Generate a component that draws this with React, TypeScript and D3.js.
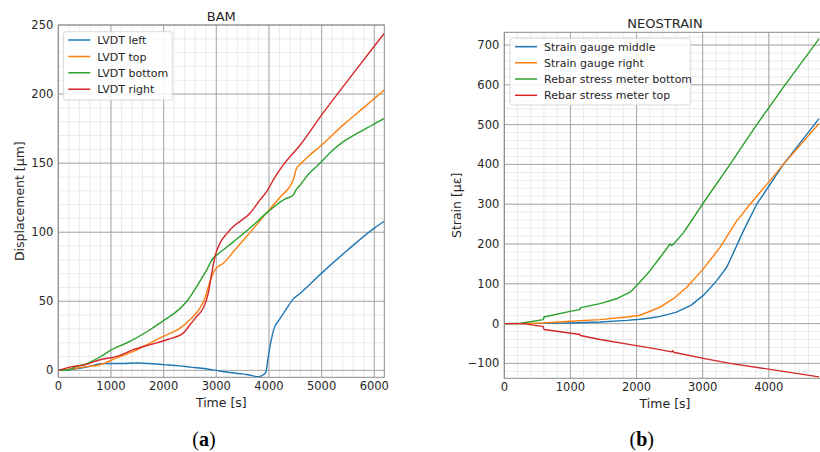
import React from "react";
import * as d3 from "d3";

// ---------- Panel (a) BAM ----------
const bamSeriesNames = ["LVDT left", "LVDT top", "LVDT bottom", "LVDT right"];
const lvdtLeftT = [0, 200, 400, 600, 800, 1000, 1200, 1500, 1800, 2000, 2300, 2500, 2800, 3000, 3200, 3450, 3600, 3800, 3900, 3940, 3980, 4020, 4060, 4100, 4200, 4300, 4460, 4600, 5000, 5500, 6000, 6190];
const lvdtLeftV = [0, 0.5, 1.5, 3, 4.8, 5, 5, 5.3, 4.8, 4.2, 3.3, 2.4, 1.2, 0, -1.2, -2.4, -3.2, -4.6, -3, -1.4, 8, 17.4, 25, 30.6, 37, 42.7, 51.6, 56, 70.4, 87.3, 103, 108];
const lvdtTopT = [0, 200, 475, 792, 1108, 1424, 1741, 1994, 2311, 2500, 2690, 2785, 2880, 2975, 3133, 3355, 3600, 3956, 4200, 4462, 4520, 4589, 4750, 4969, 5412, 5855, 6190];
const lvdtTopV = [0, 0.8, 2.4, 4.1, 9, 13.7, 19.8, 24.6, 30.6, 36.7, 45.1, 52.3, 64.4, 72.8, 77.5, 87.3, 98, 114, 125, 138, 146, 149, 155, 162, 177.7, 192, 203];
const lvdtBottomT = [0, 200, 349, 475, 792, 1013, 1361, 1741, 2026, 2248, 2437, 2627, 2817, 2943, 2975, 3323, 3700, 3956, 4300, 4462, 4520, 4589, 4750, 4969, 5200, 5412, 5650, 5855, 6000, 6190];
const lvdtBottomV = [0, 0.5, 2.9, 4.1, 9.7, 15, 21, 29.4, 36.7, 42.7, 49.9, 60.7, 72.8, 81.3, 82.4, 93, 105, 114, 124, 127, 131, 134, 142, 150, 159, 165.6, 171, 175.3, 178.5, 182.5];
const lvdtRightT = [0, 222, 500, 792, 1108, 1424, 1741, 2058, 2373, 2500, 2627, 2753, 2848, 2912, 2975, 3070, 3200, 3323, 3640, 3830, 3956, 4100, 4272, 4589, 5001, 5601, 6190];
const lvdtRightV = [0, 2.4, 4, 7.7, 10.1, 15, 18.6, 22.2, 27, 33, 39, 45.1, 56, 70, 82.4, 92.1, 99, 104.1, 113.8, 123.4, 129.4, 139, 148.7, 163, 184.9, 215, 244];
const bamXTicks = [0, 1000, 2000, 3000, 4000, 5000, 6000];
const bamYTicks = [0, 50, 100, 150, 200, 250];

// ---------- Panel (b) NEOSTRAIN ----------
const neoSeriesNames = ["Strain gauge middle", "Strain gauge right", "Rebar stress meter bottom", "Rebar stress meter top"];
const sgMiddleT = [0, 300, 600, 994, 1448, 1852, 2053, 2204, 2355, 2594, 2821, 3010, 3213, 3364, 3515, 3616, 3691, 3818, 4221, 4474, 4760];
const sgMiddleV = [0, 0, 0.5, 1.5, 4, 8, 11, 14, 18, 28, 45.8, 70.8, 108, 141.5, 196, 233, 258, 300, 400, 454, 515];
const sgRightT = [0, 300, 590, 994, 1448, 1852, 2053, 2204, 2355, 2557, 2759, 3010, 3263, 3515, 3717, 4221, 4760];
const sgRightV = [0, 0, 1.5, 5.8, 10, 16.5, 21, 31, 41.5, 62.5, 91.5, 137.5, 191.5, 258, 300, 400, 503];
const rebarBottomT = [0, 250, 590, 600, 994, 1140, 1156, 1448, 1700, 1902, 2027, 2204, 2355, 2507, 2530, 2560, 2708, 3010, 3414, 3818, 4247, 4726, 4760];
const rebarBottomV = [0, 1, 10, 16.5, 30.8, 35, 40, 50, 62.5, 79, 100, 133, 166, 200, 196, 200, 228, 303, 400, 500, 600, 708, 716];
const rebarTopT = [0, 300, 439, 590, 600, 1145, 1150, 1448, 1952, 2204, 2532, 2545, 2560, 3010, 3414, 4020, 4760];
const rebarTopV = [0, 0, -4, -7.5, -15, -27.5, -30, -40, -54, -61, -71, -68, -72, -87.5, -100, -115, -134];
const neoXTicks = [0, 1000, 2000, 3000, 4000];
const neoYTicks = [-100, 0, 100, 200, 300, 400, 500, 600, 700];

const colors = ["#1f77b4", "#ff7f0e", "#2ca02c", "#d62728"];
const FONT = "DejaVu Sans, sans-serif";
const TXT = "#262626";

type PanelProps = {
  id: string;
  x0: number; x1: number; y0: number; y1: number;
  xDomain: [number, number]; yDomain: [number, number];
  xTicks: number[]; yTicks: number[];
  xMinorStep: number; yMinorStep: number;
  series: { t: number[]; v: number[] }[];
  names: string[];
  title: string;
  titleCx: number;
  titleY: number;
  yLabel: string;
  yLabelX: number;
  smooth: boolean;
  legend: { x: number; y: number; w: number; h: number; rowY: number[] };
};

function Panel(p: PanelProps) {
  const xs = d3.scaleLinear().domain(p.xDomain).range([p.x0, p.x1]);
  const ys = d3.scaleLinear().domain(p.yDomain).range([p.y1, p.y0]);
  const xMinor = d3.range(Math.ceil(p.xDomain[0] / p.xMinorStep) * p.xMinorStep, p.xDomain[1], p.xMinorStep);
  const yMinor = d3.range(Math.ceil(p.yDomain[0] / p.yMinorStep) * p.yMinorStep, p.yDomain[1], p.yMinorStep);
  const line = d3
    .line<[number, number]>()
    .x((d) => xs(d[0]))
    .y((d) => ys(d[1]))
    .curve(p.smooth ? d3.curveMonotoneX : d3.curveLinear);
  const fmt = (n: number) => (n < 0 ? "\u2212" + Math.abs(n) : String(n));
  return (
    <g>
      <defs>
        <clipPath id={"clip" + p.id}>
          <rect x={p.x0} y={p.y0} width={p.x1 - p.x0} height={p.y1 - p.y0} />
        </clipPath>
      </defs>
      <rect x={p.x0} y={p.y0} width={p.x1 - p.x0} height={p.y1 - p.y0} fill="#fff" />
      {xMinor.map((t) => (
        <line key={"xm" + t} x1={xs(t)} x2={xs(t)} y1={p.y0} y2={p.y1} stroke="#e6e6e6" strokeWidth={0.8} />
      ))}
      {yMinor.map((v) => (
        <line key={"ym" + v} x1={p.x0} x2={p.x1} y1={ys(v)} y2={ys(v)} stroke="#e6e6e6" strokeWidth={0.8} />
      ))}
      {p.xTicks.map((t) => (
        <line key={"xM" + t} x1={xs(t)} x2={xs(t)} y1={p.y0} y2={p.y1} stroke="#a8a8a8" strokeWidth={1} />
      ))}
      {p.yTicks.map((v) => (
        <line key={"yM" + v} x1={p.x0} x2={p.x1} y1={ys(v)} y2={ys(v)} stroke="#a8a8a8" strokeWidth={1} />
      ))}
      <g clipPath={`url(#clip${p.id})`}>
        {p.series.map((s, i) => (
          <path
            key={i}
            d={line(s.t.map((t, k) => [t, s.v[k]] as [number, number])) || ""}
            fill="none"
            stroke={colors[i]}
            strokeWidth={1.4}
            strokeLinejoin="round"
          />
        ))}
      </g>
      <rect x={p.x0} y={p.y0} width={p.x1 - p.x0} height={p.y1 - p.y0} fill="none" stroke="#8a8a8a" strokeWidth={1} />
      {p.xTicks.map((t) => (
        <text key={"xl" + t} x={xs(t)} y={p.y1 + 13} textAnchor="middle" fontFamily={FONT} fontSize={11.5} fill={TXT}>
          {fmt(t)}
        </text>
      ))}
      {p.yTicks.map((v) => (
        <text key={"yl" + v} x={p.x0 - 5} y={ys(v) + 4} textAnchor="end" fontFamily={FONT} fontSize={11.5} fill={TXT}>
          {fmt(v)}
        </text>
      ))}
      <text x={p.titleCx} y={p.titleY} textAnchor="middle" fontFamily={FONT} fontSize={13} fill={TXT}>
        {p.title}
      </text>
      <text x={p.titleCx} y={p.y1 + 30} textAnchor="middle" fontFamily={FONT} fontSize={12.5} fill={TXT}>
        Time [s]
      </text>
      <text
        transform={`translate(${p.yLabelX},${(p.y0 + p.y1) / 2}) rotate(-90)`}
        textAnchor="middle"
        fontFamily={FONT}
        fontSize={12.5}
        fill={TXT}
      >
        {p.yLabel}
      </text>
      <rect x={p.legend.x} y={p.legend.y} width={p.legend.w} height={p.legend.h} rx={2.5} fill="#fff" fillOpacity={0.85} stroke="#d0d0d0" strokeWidth={0.8} />
      {p.names.map((n, i) => (
        <g key={n}>
          <line x1={p.legend.x + 5} x2={p.legend.x + 27} y1={p.legend.rowY[i]} y2={p.legend.rowY[i]} stroke={colors[i]} strokeWidth={1.5} />
          <text x={p.legend.x + 34} y={p.legend.rowY[i] + 4} fontFamily={FONT} fontSize={11} fill={TXT}>
            {n}
          </text>
        </g>
      ))}
    </g>
  );
}

export default function App() {
  const bamSeries = [
    { t: lvdtLeftT, v: lvdtLeftV },
    { t: lvdtTopT, v: lvdtTopV },
    { t: lvdtBottomT, v: lvdtBottomV },
    { t: lvdtRightT, v: lvdtRightV },
  ];
  const neoSeries = [
    { t: sgMiddleT, v: sgMiddleV },
    { t: sgRightT, v: sgRightV },
    { t: rebarBottomT, v: rebarBottomV },
    { t: rebarTopT, v: rebarTopV },
  ];
  return (
    <svg width={820} height={452} style={{ position: "absolute", left: 0, top: 0, background: "#fff" }}>
      <rect x={0} y={0} width={820} height={452} fill="#fff" />
      <Panel
        id="a"
        x0={58.3} x1={384.3} y0={25} y1={377.3}
        xDomain={[0, 6190]} yDomain={[-5, 250]}
        xTicks={bamXTicks} yTicks={bamYTicks}
        xMinorStep={200} yMinorStep={10}
        series={bamSeries}
        names={bamSeriesNames}
        title="BAM"
        titleCx={221.3}
        titleY={21.3}
        yLabel="Displacement [µm]"
        yLabelX={24}
        smooth={true}
        legend={{ x: 63.3, y: 31.7, w: 109, h: 68.3, rowY: [40, 56.5, 72.8, 89.2] }}
      />
      <Panel
        id="b"
        x0={504.3} x1={825} y0={32.3} y1={378.3}
        xDomain={[0, 4850]} yDomain={[-137.5, 732]}
        xTicks={neoXTicks} yTicks={neoYTicks}
        xMinorStep={200} yMinorStep={20}
        series={neoSeries}
        names={neoSeriesNames}
        title="NEOSTRAIN"
        titleCx={665}
        titleY={28}
        yLabel="Strain [µε]"
        yLabelX={461}
        smooth={false}
        legend={{ x: 510, y: 38.3, w: 180.7, h: 66.7, rowY: [46.7, 62.8, 79, 95.3] }}
      />
      <text x={204} y={446} textAnchor="middle" fontFamily="Liberation Serif, serif" fontSize={20} fill="#000">
        <tspan>(</tspan>
        <tspan fontWeight="bold">a</tspan>
        <tspan>)</tspan>
      </text>
      <text x={641.7} y={446} textAnchor="middle" fontFamily="Liberation Serif, serif" fontSize={20} fill="#000">
        <tspan>(</tspan>
        <tspan fontWeight="bold">b</tspan>
        <tspan>)</tspan>
      </text>
    </svg>
  );
}
